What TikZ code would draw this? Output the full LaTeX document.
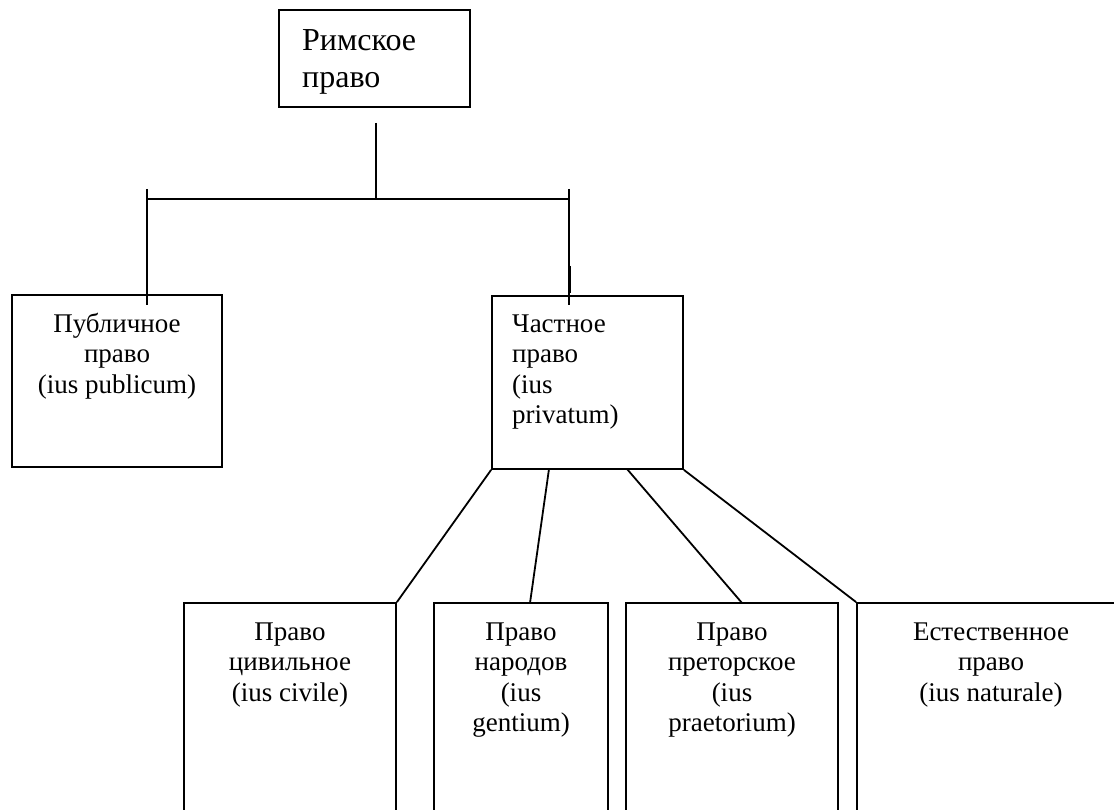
\documentclass[tikz,border=0pt]{standalone}
\usepackage{fontspec}
\setmainfont{Liberation Serif}
\begin{document}
\begin{tikzpicture}[x=1pt,y=1pt,
  box/.style={draw=black,line width=1.8pt,minimum width=#1,inner sep=0pt,anchor=center},
  wire/.style={draw=black,line width=1.8pt},
  big/.style={font=\fontsize{32}{37}\selectfont,inner sep=0pt,align=left,anchor=north west},
  txt/.style={font=\fontsize{27}{30.5}\selectfont,inner sep=0pt,align=center,anchor=north},
  txtl/.style={font=\fontsize{27}{30.5}\selectfont,inner sep=0pt,align=left,anchor=north west}]
\clip (0,0) rectangle (1114,809);
\fill[white] (0,0) rectangle (1114,809);
% boxes
\node[box=191pt,minimum height=97pt] (rim) at (374.5,750.5) {};
\node[box=210pt,minimum height=172pt] (pub) at (117,428) {};
\node[box=191pt,minimum height=173pt] (priv) at (587.5,426.5) {};
\node[box=212pt,minimum height=240pt] (civ) at (290,86) {};
\node[box=174pt,minimum height=240pt] (gen) at (521,86) {};
\node[box=212pt,minimum height=240pt] (pret) at (732,86) {};
\node[box=273pt,minimum height=240pt] (nat) at (993.5,86) {};
% texts
\node[big] (trim) at (302,784) {\rule{0pt}{25pt}Римское\\право};
\node[txt] (tpub) at (117,499) {\rule{0pt}{22pt}Публичное\\право\\(ius publicum)};
\node[txtl] (tpriv) at (512,499) {\rule{0pt}{22pt}Частное\\право\\(ius\\privatum)};
\node[txt] (tciv) at (290,191) {\rule{0pt}{22pt}Право\\цивильное\\(ius civile)};
\node[txt] (tgen) at (521,191) {\rule{0pt}{22pt}Право\\народов\\(ius\\gentium)};
\node[txt] (tpret) at (732,191) {\rule{0pt}{22pt}Право\\преторское\\(ius\\praetorium)};
\node[txt] (tnat) at (991,191) {\rule{0pt}{22pt}Естественное\\право\\(ius naturale)};
% tree connectors
\coordinate (s1) at (376,686);
\coordinate (j) at (376,610);
\coordinate (jl) at (147,610);
\coordinate (jr) at (569,610);
\coordinate (tl) at (147,620);
\coordinate (tr) at (569,620);
\coordinate (el) at (147,504);
\coordinate (er) at (569,504);
\coordinate (tk1) at (569,543);
\coordinate (tk2) at (569,516);
\draw[wire] (s1) -- (j);
\draw[wire] (jl) -- (jr);
\draw[wire] (tl) -- (el);
\draw[wire] (tr) -- (er);
\draw[wire,line width=3pt] (tk1) -- (tk2);
% branches from private law
\coordinate (p2) at (549,340);
\coordinate (g2) at (530,206);
\coordinate (p3) at (627,340);
\coordinate (r3) at (742,206);
\draw[wire] (priv.south west) -- (civ.north east);
\draw[wire] (p2) -- (g2);
\draw[wire] (p3) -- (r3);
\draw[wire] (priv.south east) -- (nat.north west);
\end{tikzpicture}
\end{document}
